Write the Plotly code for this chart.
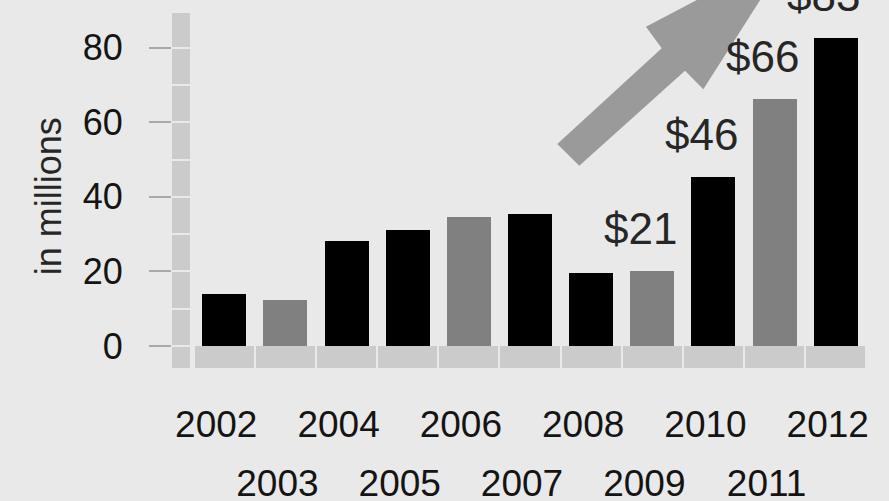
import plotly.graph_objects as go

# ---------------- data ----------------
years = [2002, 2003, 2004, 2005, 2006, 2007, 2008, 2009, 2010, 2011, 2012]
values = [13.9, 12.3, 28.2, 31.1, 34.5, 35.3, 19.5, 20.2, 45.4, 66.2, 82.5]
bar_shades = ["black", "gray", "black", "black", "gray", "black",
              "black", "gray", "black", "gray", "black"]
label_years = [2009, 2010, 2011, 2012]
label_values = [20.2, 45.4, 66.2, 82.5]
label_texts = ["$21", "$46", "$66", "$83"]
y_ticks = [0, 20, 40, 60, 80]
y_tile_edges = [0, 10, 20, 30, 40, 50, 60, 70, 80]
even_years = [2002, 2004, 2006, 2008, 2010, 2012]
odd_years = [2003, 2005, 2007, 2009, 2011]
y_title = "in millions"

# ---------------- style / layout ----------------
W, H = 889, 501
ML, MR, MT, MB = 172, 21, 0, 133
X_RANGE = [2001.145, 2012.527]
Y_RANGE = [-5.9, 92.79]
LABEL_SHIFT = 0.131          # tick labels sit slightly left of bar centres
BG = "#e9e9e9"
TILE = "#cbcbcb"
SHADE = {"black": "#000000", "gray": "#808080"}
FONT = "Liberation Sans, Arial, Helvetica, sans-serif"
TXT = "#141414"

fig = go.Figure()

# bottom strip tiles (one per category)
fig.add_trace(go.Bar(x=years, y=[5.8] * len(years), base=[Y_RANGE[0]] * len(years),
                     width=0.967, marker=dict(color=TILE, line=dict(width=0)),
                     hoverinfo="skip", showlegend=False))

# left strip tiles (one per 10 units)
gap = 0.27
edges = [Y_RANGE[0]] + y_tile_edges + [89.4]
bases, heights = [], []
for i in range(len(edges) - 1):
    lo = edges[i] + (gap if i > 0 else 0)
    hi = edges[i + 1] - (gap if i < len(edges) - 2 else 0)
    bases.append(lo)
    heights.append(hi - lo)
strip_x = X_RANGE[0] + 0.148
fig.add_trace(go.Bar(x=[strip_x] * len(bases), y=heights, base=bases, width=0.295,
                     marker=dict(color=TILE, line=dict(width=0)),
                     hoverinfo="skip", showlegend=False))

# main bars
fig.add_trace(go.Bar(x=years, y=values, width=0.72,
                     marker=dict(color=[SHADE[s] for s in bar_shades], line=dict(width=0)),
                     showlegend=False))

# invisible carriers for the two label rows
fig.add_trace(go.Scatter(x=even_years, y=[0] * len(even_years), xaxis="x2", mode="markers",
                         marker=dict(opacity=0), hoverinfo="skip", showlegend=False))
fig.add_trace(go.Scatter(x=odd_years, y=[0] * len(odd_years), xaxis="x3", mode="markers",
                         marker=dict(opacity=0), hoverinfo="skip", showlegend=False))

shift_range = [X_RANGE[0] + LABEL_SHIFT, X_RANGE[1] + LABEL_SHIFT]
common_x = dict(showgrid=False, zeroline=False, showline=False, ticks="", automargin=False,
                tickfont=dict(size=37, color=TXT, family=FONT))

# value labels
annotations = []
for yr, v, t in zip(label_years, label_values, label_texts):
    annotations.append(dict(x=yr, y=v, xref="x", yref="y", text=t, showarrow=False,
                            yanchor="bottom", xanchor="center", yshift=16, xshift=-12,
                            font=dict(size=44, color="#262626", family=FONT)))
annotations.append(dict(x=-0.178, y=40.2, xref="paper", yref="y", text=y_title,
                        showarrow=False, textangle=-90, xanchor="center", yanchor="middle",
                        font=dict(size=36, color="#262626", family=FONT)))

# decorative arrow (pixel outline -> paper coords)
arrow_px = [(557.3, 144.0), (661.7, 48.3), (646.0, 26.7), (792.0, -50.0),
            (703.3, 89.3), (685.0, 70.7), (579.3, 165.7)]
pw, ph = W - ML - MR, H - MT - MB
def to_paper(p):
    return ((p[0] - ML) / pw, (H - MB - p[1]) / ph)
pts = [to_paper(p) for p in arrow_px]
path = "M " + " L ".join(f"{x:.4f},{y:.4f}" for x, y in pts) + " Z"

fig.update_layout(
    width=W, height=H,
    margin=dict(l=ML, r=MR, t=MT, b=MB, autoexpand=False),
    paper_bgcolor=BG, plot_bgcolor=BG,
    barmode="overlay",
    bargap=0,
    font=dict(family=FONT, color=TXT),
    xaxis=dict(range=X_RANGE, showticklabels=False, showgrid=False, zeroline=False,
               showline=False, ticks="", automargin=False),
    xaxis2=dict(overlaying="x", anchor="y", side="bottom", range=shift_range,
                tickmode="array", tickvals=even_years, ticktext=[str(y) for y in even_years],
                ticklabelstandoff=31, **common_x),
    xaxis3=dict(overlaying="x", anchor="y", side="bottom", range=shift_range,
                tickmode="array", tickvals=odd_years, ticktext=[str(y) for y in odd_years],
                ticklabelstandoff=90, **common_x),
    yaxis=dict(range=Y_RANGE, tickmode="array", tickvals=y_ticks, ticks="outside",
               ticklen=22, tickwidth=1.5, tickcolor="#a9a9a9", showgrid=False,
               zeroline=False, showline=False, ticklabelstandoff=19, automargin=False,
               tickfont=dict(size=36, color=TXT, family=FONT)),
    shapes=[dict(type="path", path=path, xref="paper", yref="paper",
                 fillcolor="#9a9a9a", line=dict(width=0), layer="below")],
    annotations=annotations,
)

fig.write_html(
    "out.html",
    config={"displayModeBar": False},
    post_script="document.body.style.margin='0px';document.body.style.overflow='hidden';"
                "document.body.style.background='" + BG + "';",
)
